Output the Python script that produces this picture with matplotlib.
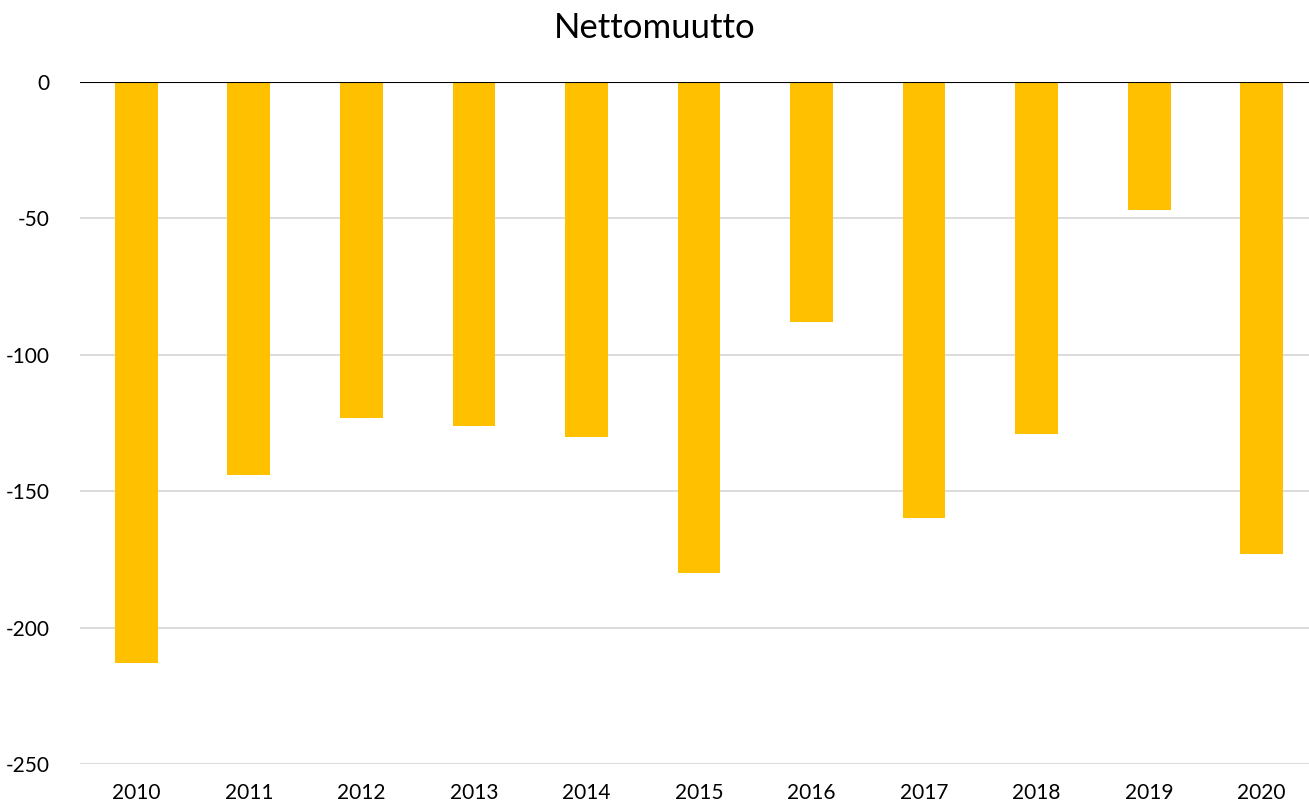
import matplotlib
matplotlib.use("Agg")
import matplotlib.pyplot as plt

BAR_COLOR = "#FFC000"
GRID_COLOR = "#D9D9D9"

years = ["2010", "2011", "2012", "2013", "2014", "2015",
         "2016", "2017", "2018", "2019", "2020"]
nettomuutto = [-213, -144, -123, -126, -130, -180, -88, -160, -129, -47, -173]
yticks = [0, -50, -100, -150, -200, -250]

plt.rcParams["font.family"] = ["Lato", "DejaVu Sans"]

fig = plt.figure(figsize=(13.09, 8.08), dpi=100)
ax = fig.add_axes([80 / 1309, 1 - 764 / 808, 1238 / 1309, 682 / 808])

x = range(len(years))
ax.bar(x, nettomuutto, width=0.38, color=BAR_COLOR, zorder=2)

ax.set_xlim(-0.5, len(years) - 0.5)
ax.set_ylim(-250, 0)
ax.set_yticks(yticks)
ax.set_yticklabels([str(v) for v in yticks])
ax.set_xticks(list(x))
ax.set_xticklabels(years)

ax.yaxis.grid(True, color=GRID_COLOR, linewidth=1.3, zorder=0)
ax.axhline(0, color="black", linewidth=1.5, zorder=3)
for s in ax.spines.values():
    s.set_visible(False)
ax.tick_params(axis="both", length=0, labelsize=15)
ax.tick_params(axis="y", pad=22)
ax.tick_params(axis="x", pad=14)

fig.suptitle("Nettomuutto", fontsize=25, y=1 - 28 / 808, va="center")

fig.savefig("out.png", dpi=100)
